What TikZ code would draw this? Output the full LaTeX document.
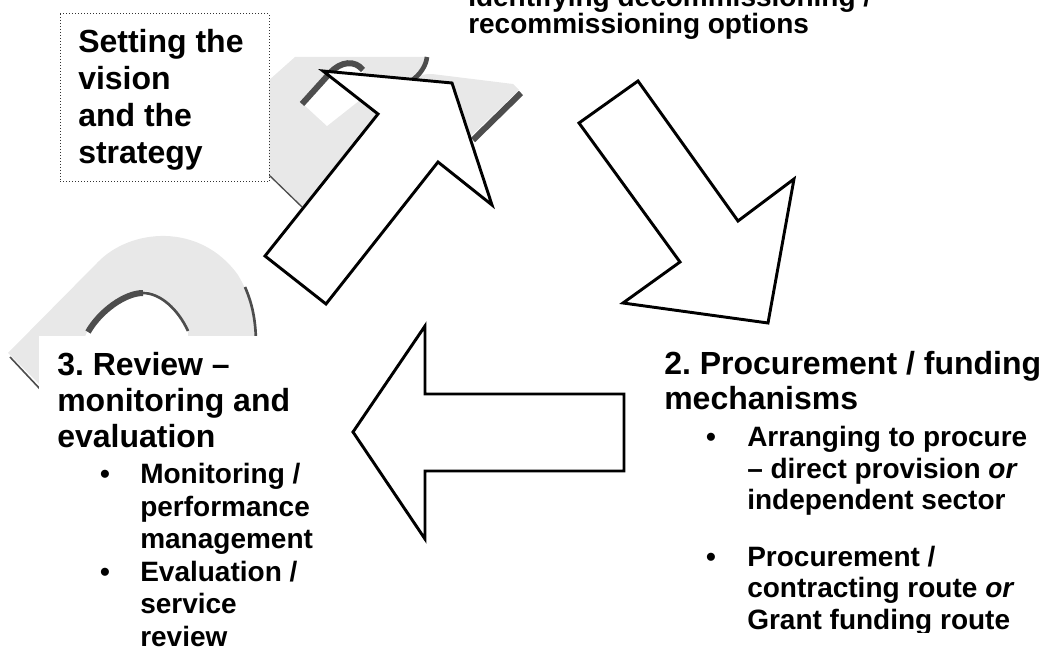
\documentclass[tikz,border=0pt]{standalone}
\usepackage{fontspec}
\setmainfont{Liberation Sans}
\frenchspacing
\definecolor{bandgray}{HTML}{E8E8E8}
\definecolor{shadegray}{HTML}{4D4D4D}
\begin{document}
\begin{tikzpicture}[x=0.75pt,y=-0.75pt,
  bigarrow/.style={draw=black, fill=white, line width=2.2pt, line join=miter, miter limit=25},
  shadeline/.style={draw=shadegray, line cap=butt},
  title/.style={font=\bfseries\fontsize{24}{27}\selectfont, anchor=base west, inner sep=0pt},
  item/.style={font=\bfseries\fontsize{21}{24}\selectfont, anchor=base west, inner sep=0pt},
  bulletdot/.style={font=\bfseries\fontsize{21}{24}\selectfont, anchor=base, inner sep=0pt},
]
\useasboundingbox (0,0) rectangle (1047,648);
\clip (0,0) rectangle (1047,648);

% ---- grey band, lower left
\fill[bandgray] (8,353) -- (97,263) .. controls (130,228) and (200,222) .. (238,275)
  .. controls (250,295) and (255,315) .. (255,345) -- (255,380) -- (188,380) -- (188,330)
  .. controls (178,308) and (160,291) .. (143,291) .. controls (125,292) and (100,310) .. (88,330)
  -- (55,400) -- cycle;
\draw[shadeline, line width=4.5pt] (88,332) .. controls (100,311) and (125,293) .. (143,293);
\draw[shadeline, line width=2pt] (143,293) .. controls (160,293) and (178,309) .. (188,331);
\draw[shadeline, line width=2pt] (245,287) .. controls (252,303) and (256,320) .. (256,345);
\draw[shadeline, line width=1.2pt] (10,357) -- (40,389);

% ---- grey shape, top
\fill[bandgray] (295,57) -- (426,57) .. controls (425,66) and (419,74) .. (411,79)
  .. controls (418,75) and (425,74) .. (432,74) -- (513,84) -- (519,90) -- (470,137)
  -- (440,150) -- (302,207) -- (240,147) -- (240,106) -- cycle;
\fill[white] (302,103) -- (330,72) .. controls (342,60) and (356,60) .. (363,70)
  -- (360,100) -- (327,126) -- cycle;
\draw[shadeline, line width=4.5pt] (302,104) -- (330,73) .. controls (341,61) and (355,60) .. (363,70);
\draw[shadeline, line width=3.5pt] (427,57) .. controls (426,66) and (420,75) .. (411,81);
\draw[shadeline, line width=4.5pt] (521,93) -- (473,140);
\draw[shadeline, line width=1pt] (269,175) -- (302,207);

% ---- box: setting the vision
\draw[fill=white, draw=black!80, line width=0.75pt, dash pattern=on 0.75pt off 1.5pt] (60,14) rectangle (269,182);

% ---- block arrows
\draw[bigarrow] (452,83) -- (492,205) -- (438,162) -- (326,304) -- (265,256) -- (378,114) -- (323,71) -- cycle;
\draw[bigarrow] (768,323) -- (623,303) -- (680,262) -- (579,123) -- (638,81) -- (738,221) -- (794,179) -- cycle;
\draw[bigarrow] (353,432) -- (425,326) -- (425,394) -- (624,394) -- (624,471) -- (425,471) -- (425,539) -- cycle;

% ---- white text box of stage 3
\fill[white] (39,336) rectangle (335,648);

% ---- texts
\node[title] (s1) at (78,53) {Setting the};
\node[title] (s2) at (78,90) {vision};
\node[title] (s3) at (78,127) {and the};
\node[title] (s4) at (78,164) {strategy};

\node[item] (t1) at (468,7) {Identifying decommissioning /};
\node[item] (t2) at (468,34) {recommissioning options};

\node[title] (r1) at (57,376) {3. Review –};
\node[title] (r2) at (57,412) {monitoring and};
\node[title] (r3) at (57,448) {evaluation};
\node[bulletdot] (rb1) at (105,484) {•};
\node[item] (r4) at (140,484) {Monitoring /};
\node[item] (r5) at (140,516.5) {performance};
\node[item] (r6) at (140,549) {management};
\node[bulletdot] (rb2) at (105,581.5) {•};
\node[item] (r7) at (140,581.5) {Evaluation /};
\node[item] (r8) at (140,614) {service};
\node[item] (r9) at (140,647) {review};

\node[title] (p1) at (664,375) {2. Procurement / funding};
\node[title] (p2) at (664,410) {mechanisms};
\node[bulletdot] (pb1) at (711,447) {•};
\node[item] (p3) at (747,447) {Arranging to procure};
\node[item] (p4) at (747,478.5) {– direct provision \textit{or}};
\node[item] (p5) at (747,510) {independent sector};
\node[bulletdot] (pb2) at (711,567) {•};
\node[item] (p6) at (747,567) {Procurement /};
\node[item] (p7) at (747,598) {contracting route \textit{or}};
\begin{scope}
\clip (640,540) rectangle (1047,633);
\node[item] (p8) at (747,629) {Grant funding route};
\end{scope}
\end{tikzpicture}
\end{document}
